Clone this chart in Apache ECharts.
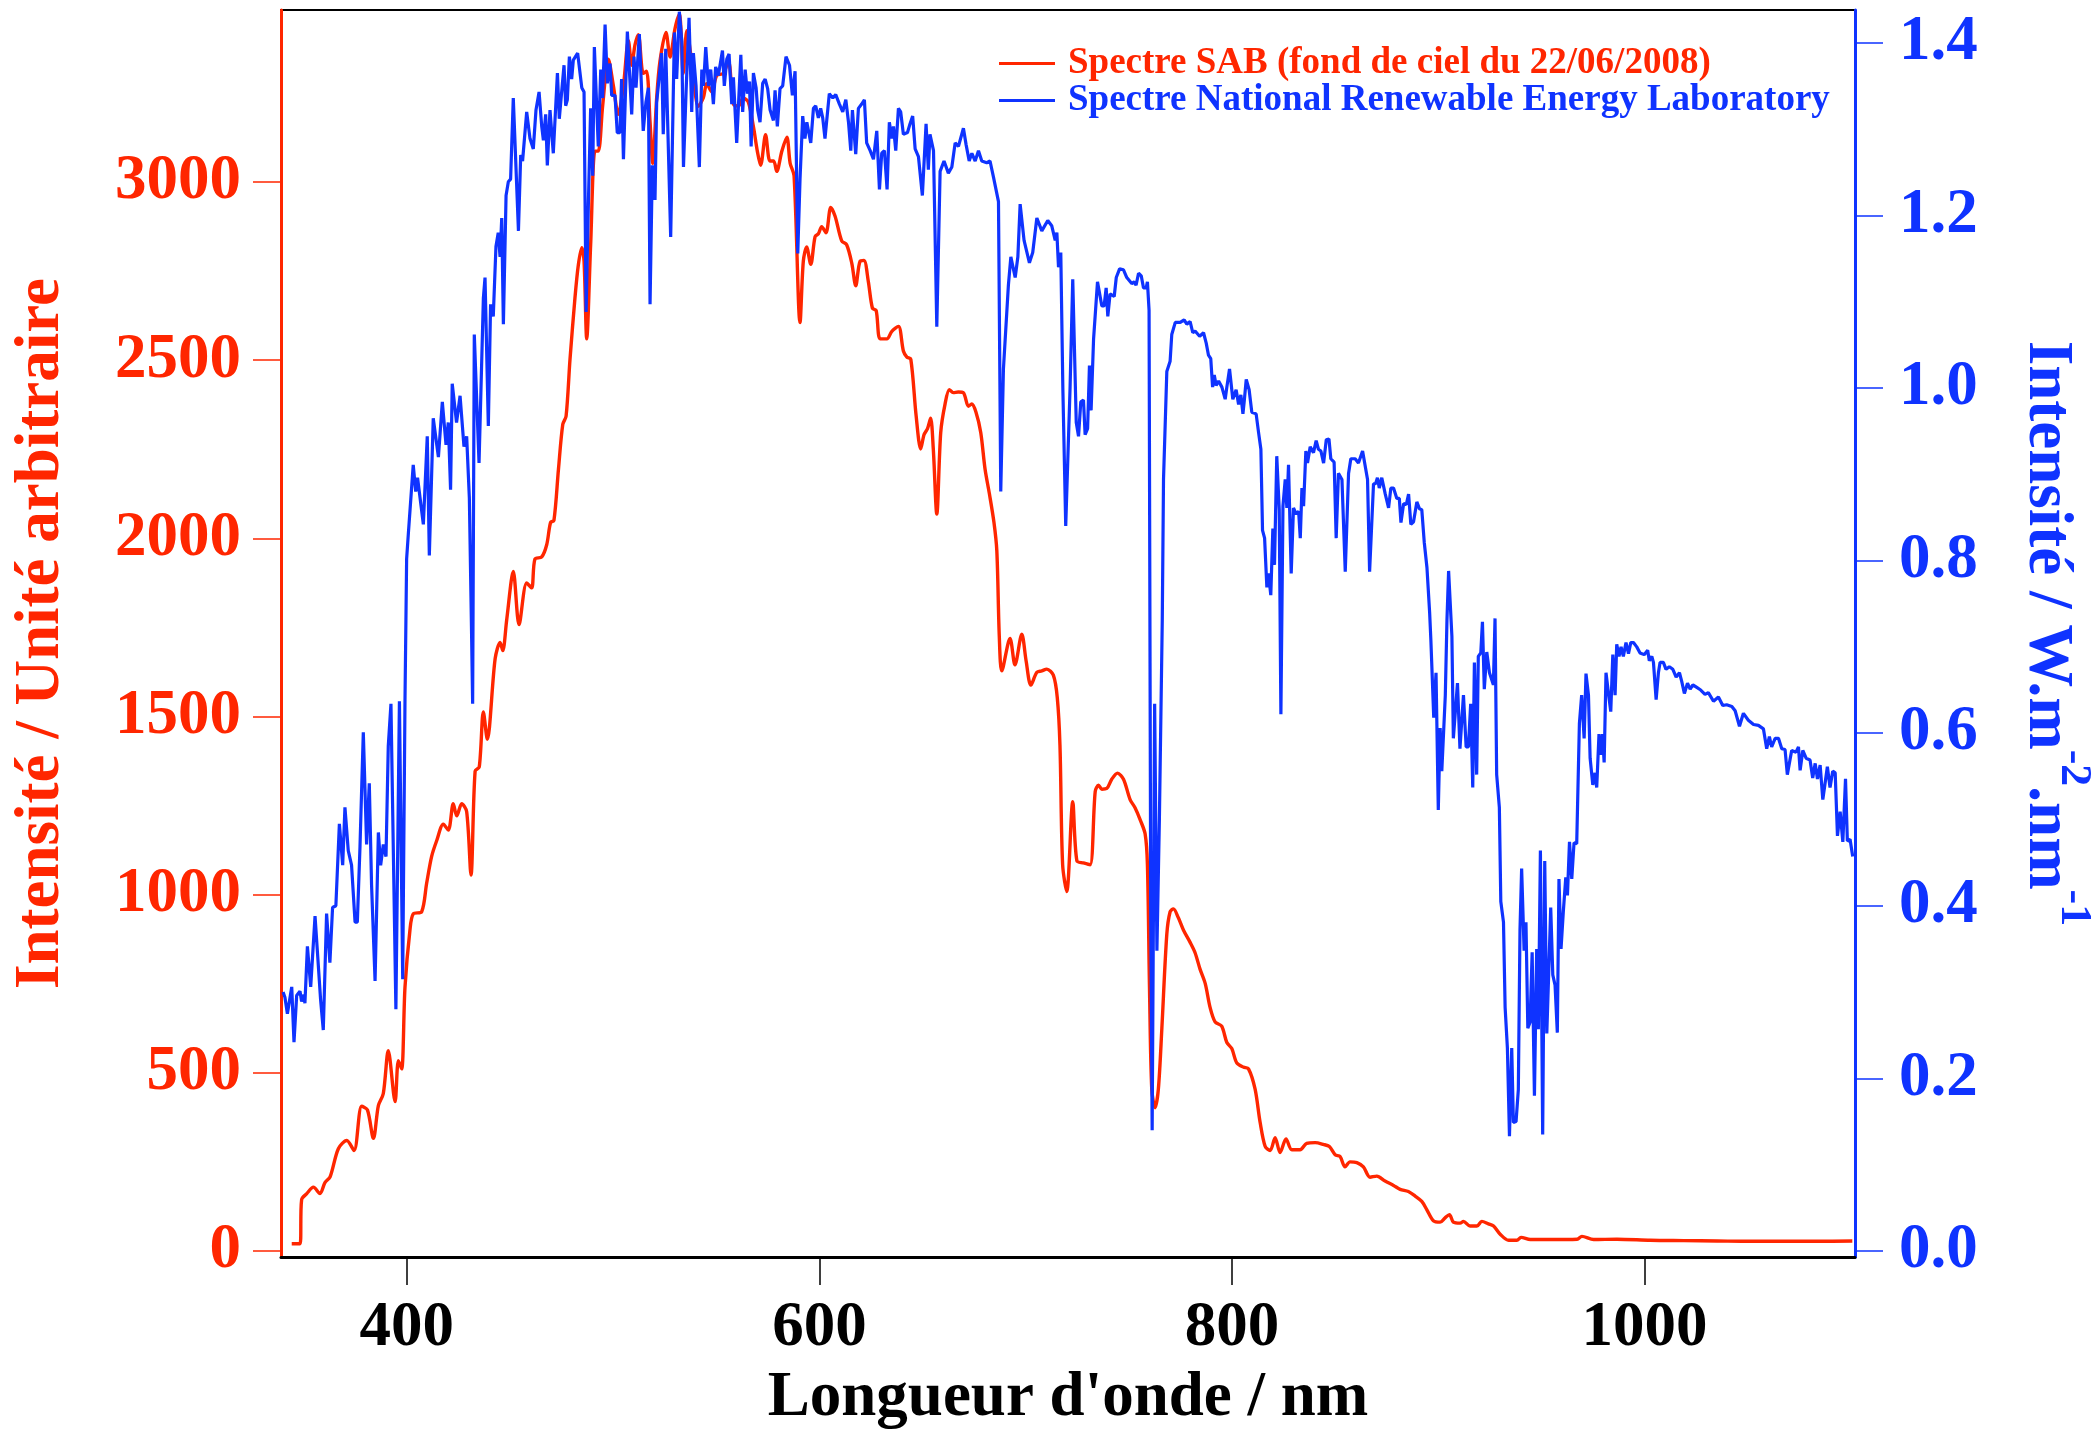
<!DOCTYPE html>
<html>
<head>
<meta charset="utf-8">
<script src="https://cdn.jsdelivr.net/npm/echarts@6/dist/echarts.min.js"></script>
<style>
  html, body { margin: 0; padding: 0; background: #fff; }
  #container { width: 2098px; height: 1433px; }
</style>
</head>
<body>
<div id="container"></div>
<script>
// spectre SAB (fond de ciel) - unité arbitraire
const sabNm = [344.2, 348.2, 349.0, 351.5, 354.7, 357.9, 360.3, 362.8, 366.8, 370.9, 374.4, 378.1, 380.9, 383.8, 386.2, 388.6, 391.0, 394.3, 395.9, 397.5, 399.1, 401.5, 403.1, 407.2, 409.6, 412.0, 414.5, 417.7, 420.1, 422.5, 424.2, 426.6, 429.0, 431.1, 433.1, 435.1, 437.1, 439.0, 442.8, 445.2, 446.5, 448.4, 451.6, 454.4, 458.1, 460.5, 462.1, 465.4, 467.8, 469.7, 471.3, 473.5, 475.6, 477.2, 479.1, 481.5, 483.1, 484.8, 485.9, 487.2, 489.1, 491.2, 492.8, 494.9, 497.7, 500.1, 502.5, 505.0, 507.4, 509.0, 510.6, 512.2, 514.6, 516.2, 517.9, 519.2, 521.1, 522.7, 525.6, 527.6, 530.0, 532.1, 534.0, 535.7, 538.1, 541.3, 543.7, 545.4, 547.8, 550.2, 553.4, 555.9, 558.3, 560.7, 563.1, 565.5, 568.0, 569.9, 571.5, 573.9, 576.0, 577.8, 579.3, 581.8, 584.2, 585.8, 587.7, 590.6, 592.2, 593.8, 595.8, 597.9, 599.5, 601.1, 603.2, 605.5, 607.6, 610.8, 613.2, 615.7, 617.6, 619.7, 621.6, 623.7, 625.7, 627.5, 629.4, 632.7, 635.1, 638.3, 640.7, 642.4, 644.3, 646.9, 649.1, 650.7, 652.4, 653.9, 655.2, 656.9, 658.8, 660.9, 663.0, 664.9, 667.3, 669.8, 672.2, 673.8, 675.9, 678.2, 680.3, 682.4, 684.6, 686.0, 687.2, 688.4, 692.4, 694.8, 698.1, 700.2, 702.5, 705.4, 707.8, 710.2, 713.4, 715.3, 716.6, 717.9, 719.9, 722.8, 724.8, 728.0, 731.2, 733.7, 735.3, 736.9, 739.3, 741.7, 744.5, 747.4, 750.6, 753.0, 755.5, 757.9, 759.0, 760.0, 761.1, 762.7, 764.3, 766.0, 768.4, 770.0, 771.6, 774.0, 776.5, 779.7, 782.1, 784.5, 787.0, 789.4, 791.8, 795.0, 797.5, 799.9, 802.3, 805.5, 808.0, 811.2, 813.6, 816.1, 818.5, 820.9, 823.3, 826.2, 829.0, 833.0, 836.2, 840.3, 844.3, 847.2, 850.0, 852.4, 854.8, 857.2, 860.5, 863.7, 866.9, 870.2, 874.2, 878.3, 881.5, 885.5, 888.8, 892.0, 894.4, 897.6, 900.9, 903.3, 905.4, 907.3, 910.6, 912.2, 915.4, 918.7, 921.1, 924.3, 926.8, 930.0, 934.1, 938.1, 940.1, 944.6, 954.3, 967.3, 969.6, 975.3, 986.6, 1002.8, 1019.0, 1035.2, 1051.4, 1067.5, 1083.7, 1100.7]
const sabVal = [20, 20, 144, 161, 179, 161, 192, 208, 287, 310, 282, 406, 396, 316, 408, 442, 562, 419, 534, 511, 740, 900, 946, 952, 1032, 1107, 1152, 1198, 1181, 1255, 1221, 1255, 1233, 1055, 1347, 1358, 1513, 1436, 1662, 1708, 1685, 1771, 1907, 1758, 1875, 1861, 1942, 1948, 1982, 2045, 2050, 2194, 2320, 2343, 2503, 2675, 2766, 2816, 2778, 2560, 2824, 3087, 3087, 3213, 3345, 3271, 3190, 3271, 3397, 3328, 3385, 3414, 3305, 3311, 3168, 3053, 3236, 3339, 3420, 3351, 3431, 3471, 3305, 3425, 3339, 3213, 3236, 3276, 3253, 3299, 3305, 3339, 3219, 3213, 3236, 3225, 3156, 3087, 3047, 3133, 3059, 3059, 3030, 3087, 3126, 3053, 3018, 2606, 2778, 2818, 2769, 2847, 2855, 2875, 2858, 2929, 2904, 2835, 2824, 2772, 2709, 2778, 2780, 2721, 2646, 2640, 2560, 2560, 2581, 2595, 2526, 2509, 2503, 2343, 2251, 2291, 2308, 2337, 2251, 2068, 2297, 2377, 2417, 2409, 2411, 2409, 2371, 2377, 2354, 2297, 2194, 2125, 2045, 1965, 1724, 1628, 1719, 1645, 1731, 1656, 1588, 1624, 1628, 1633, 1616, 1553, 1420, 1084, 1009, 1261, 1095, 1089, 1084, 1290, 1307, 1296, 1298, 1324, 1341, 1324, 1267, 1244, 1210, 1170, 1084, 740, 454, 402, 454, 625, 889, 952, 960, 935, 900, 866, 837, 791, 751, 683, 643, 631, 585, 568, 528, 516, 511, 454, 362, 293, 282, 318, 276, 314, 284, 284, 302, 304, 299, 293, 270, 265, 236, 250, 248, 236, 207, 210, 196, 184, 173, 167, 154, 139, 116, 85, 81, 93, 102, 81, 78, 83, 70, 70, 83, 76, 70, 47, 30, 30, 38, 32, 32, 33, 41, 32, 33, 30, 29, 28, 27, 27, 27, 28]

// spectre NREL - W.m-2.nm-1
const nrelNm = [340.0, 340.9, 342.1, 344.2, 345.3, 346.6, 348.2, 349.0, 350.1, 350.6, 351.8, 353.4, 355.5, 356.3, 358.2, 359.5, 361.1, 362.7, 364.0, 365.6, 367.3, 368.9, 370.0, 371.6, 373.2, 374.9, 376.0, 377.3, 378.9, 380.5, 381.8, 382.9, 384.6, 386.2, 387.3, 388.6, 389.9, 391.0, 392.3, 394.7, 396.4, 398.0, 399.1, 399.9, 400.7, 403.1, 404.3, 405.2, 408.0, 409.9, 410.9, 412.8, 415.3, 417.2, 419.0, 420.1, 421.2, 422.0, 424.1, 425.8, 427.7, 429.0, 430.3, 431.4, 431.9, 432.7, 435.0, 437.1, 437.9, 439.5, 440.6, 441.9, 443.2, 444.3, 445.2, 446.0, 446.8, 448.1, 449.2, 450.3, 451.6, 454.1, 455.2, 456.1, 458.1, 459.7, 461.3, 462.6, 464.1, 465.4, 466.2, 467.3, 468.1, 469.4, 471.0, 473.0, 473.9, 476.2, 477.0, 477.8, 478.8, 479.9, 480.7, 482.8, 484.8, 485.9, 486.9, 488.0, 489.1, 490.1, 490.9, 492.8, 494.0, 494.9, 496.1, 497.2, 498.5, 499.3, 500.9, 502.0, 503.3, 504.1, 505.0, 506.9, 509.0, 510.1, 511.1, 512.7, 514.6, 515.9, 517.1, 517.9, 519.0, 520.3, 521.1, 523.5, 524.3, 525.5, 527.9, 529.7, 530.8, 532.1, 533.3, 534.1, 535.4, 536.8, 538.1, 538.9, 540.2, 541.8, 543.0, 543.8, 544.9, 546.2, 547.3, 548.6, 549.7, 551.0, 551.8, 553.0, 553.9, 555.1, 556.2, 557.5, 558.3, 559.9, 561.9, 562.8, 564.0, 565.1, 566.1, 566.9, 568.0, 569.3, 570.1, 571.2, 572.5, 573.7, 574.9, 576.1, 577.7, 578.5, 579.6, 580.9, 582.2, 583.8, 585.5, 586.9, 588.2, 589.5, 590.6, 591.9, 593.0, 593.9, 594.7, 595.8, 597.1, 598.2, 599.5, 600.6, 601.6, 602.7, 604.8, 606.5, 607.9, 609.7, 611.3, 612.8, 614.1, 615.2, 616.0, 617.6, 618.9, 620.5, 621.8, 622.9, 624.6, 626.2, 627.8, 629.1, 630.2, 631.5, 632.8, 633.9, 635.1, 635.9, 637.0, 638.3, 639.4, 640.7, 642.7, 643.9, 645.2, 646.4, 648.0, 649.9, 650.7, 651.7, 652.8, 653.6, 655.3, 656.9, 658.5, 660.4, 662.5, 664.2, 665.8, 667.4, 669.8, 671.1, 672.6, 673.9, 675.5, 677.1, 678.7, 681.1, 682.7, 684.4, 686.8, 687.9, 689.2, 690.0, 691.6, 692.8, 694.9, 696.2, 697.3, 699.2, 701.8, 703.4, 705.4, 707.8, 710.7, 712.6, 714.3, 715.1, 715.9, 717.0, 718.0, 719.4, 721.5, 722.8, 724.5, 725.6, 726.7, 728.0, 728.8, 730.0, 730.9, 731.7, 732.9, 734.8, 736.9, 738.0, 739.0, 739.8, 740.9, 742.9, 743.9, 745.5, 747.4, 749.0, 751.4, 752.6, 753.5, 754.7, 756.0, 757.1, 758.4, 759.0, 759.8, 760.6, 761.3, 762.5, 763.6, 764.8, 766.2, 766.8, 768.4, 770.0, 770.8, 772.5, 774.9, 776.8, 778.1, 779.7, 781.0, 782.1, 783.0, 784.3, 786.2, 787.5, 788.6, 789.7, 790.6, 791.4, 792.3, 793.5, 795.1, 796.7, 797.5, 798.8, 800.4, 802.0, 803.2, 804.3, 805.3, 805.9, 806.9, 808.3, 809.6, 811.7, 812.9, 814.0, 814.8, 815.8, 816.9, 817.7, 818.8, 819.8, 820.6, 821.7, 822.9, 823.7, 824.7, 825.8, 826.6, 827.4, 828.7, 829.8, 831.1, 832.3, 833.1, 833.9, 834.7, 835.8, 836.6, 837.9, 839.5, 840.8, 841.9, 843.1, 844.4, 845.7, 847.0, 847.9, 849.5, 850.5, 851.6, 853.3, 854.9, 856.5, 857.6, 859.7, 861.3, 863.3, 865.7, 866.7, 868.6, 869.6, 870.5, 871.4, 872.6, 874.3, 875.9, 877.0, 878.3, 879.9, 881.1, 881.9, 883.2, 884.5, 885.6, 886.7, 888.0, 889.6, 890.9, 892.0, 893.2, 894.5, 895.8, 896.4, 897.8, 898.9, 900.0, 900.9, 901.7, 903.4, 904.2, 905.0, 906.6, 907.3, 909.3, 910.5, 912.2, 913.5, 914.6, 915.7, 916.7, 917.5, 918.6, 919.4, 920.6, 921.4, 922.3, 923.5, 924.8, 926.7, 927.5, 928.3, 929.6, 930.3, 931.6, 932.4, 933.5, 934.5, 935.6, 936.4, 937.7, 938.8, 939.6, 940.4, 941.6, 942.5, 943.4, 944.5, 945.5, 946.6, 947.7, 948.5, 949.5, 950.6, 951.6, 952.6, 953.5, 954.5, 955.5, 956.6, 957.7, 958.5, 959.5, 960.6, 961.8, 962.6, 963.6, 964.7, 965.8, 967.1, 968.4, 969.5, 970.7, 971.6, 972.8, 973.6, 974.9, 976.0, 976.8, 977.9, 978.7, 979.6, 980.4, 981.3, 982.5, 983.6, 984.6, 985.7, 986.5, 987.6, 988.6, 989.7, 991.0, 992.2, 993.3, 994.6, 996.2, 997.8, 999.8, 1001.5, 1002.3, 1003.5, 1004.3, 1005.6, 1006.7, 1007.5, 1009.1, 1010.4, 1012.0, 1013.7, 1015.3, 1016.9, 1018.0, 1019.3, 1020.8, 1022.1, 1023.4, 1025.3, 1027.2, 1029.3, 1030.9, 1033.4, 1035.8, 1037.9, 1039.8, 1042.3, 1043.9, 1046.0, 1047.9, 1050.3, 1052.8, 1055.2, 1057.6, 1059.2, 1060.5, 1061.6, 1063.3, 1064.9, 1066.5, 1068.1, 1069.2, 1071.3, 1073.4, 1074.6, 1075.4, 1076.7, 1078.3, 1080.2, 1081.5, 1082.7, 1083.8, 1085.1, 1086.4, 1087.5, 1088.6, 1089.9, 1091.2, 1092.4, 1093.5, 1094.8, 1096.1, 1097.4, 1098.3, 1099.6, 1100.9]
const nrelVal = [0.300, 0.294, 0.275, 0.306, 0.242, 0.296, 0.301, 0.289, 0.297, 0.287, 0.353, 0.306, 0.388, 0.388, 0.291, 0.256, 0.391, 0.334, 0.398, 0.400, 0.495, 0.447, 0.514, 0.464, 0.447, 0.381, 0.381, 0.469, 0.601, 0.471, 0.542, 0.424, 0.313, 0.485, 0.447, 0.471, 0.457, 0.585, 0.634, 0.280, 0.637, 0.315, 0.637, 0.802, 0.830, 0.911, 0.880, 0.896, 0.842, 0.944, 0.806, 0.965, 0.920, 0.984, 0.934, 0.960, 0.882, 1.005, 0.960, 0.991, 0.932, 0.944, 0.873, 0.712, 0.634, 1.062, 0.913, 1.104, 1.128, 0.956, 1.097, 1.083, 1.164, 1.180, 1.152, 1.197, 1.074, 1.223, 1.239, 1.242, 1.336, 1.182, 1.270, 1.263, 1.320, 1.289, 1.277, 1.322, 1.343, 1.303, 1.287, 1.317, 1.258, 1.322, 1.272, 1.365, 1.312, 1.374, 1.327, 1.334, 1.384, 1.358, 1.380, 1.388, 1.348, 1.343, 1.088, 1.213, 1.324, 1.246, 1.395, 1.280, 1.369, 1.336, 1.421, 1.353, 1.376, 1.339, 1.339, 1.296, 1.296, 1.358, 1.265, 1.413, 1.317, 1.384, 1.348, 1.410, 1.298, 1.331, 1.348, 1.097, 1.258, 1.218, 1.331, 1.388, 1.294, 1.393, 1.175, 1.412, 1.358, 1.436, 1.402, 1.256, 1.346, 1.429, 1.320, 1.388, 1.350, 1.256, 1.369, 1.350, 1.395, 1.350, 1.369, 1.329, 1.372, 1.362, 1.362, 1.391, 1.350, 1.381, 1.387, 1.329, 1.360, 1.284, 1.386, 1.320, 1.369, 1.341, 1.355, 1.280, 1.365, 1.348, 1.322, 1.308, 1.353, 1.358, 1.347, 1.322, 1.310, 1.345, 1.303, 1.347, 1.350, 1.384, 1.374, 1.339, 1.367, 1.156, 1.242, 1.315, 1.289, 1.308, 1.298, 1.284, 1.324, 1.327, 1.313, 1.324, 1.313, 1.289, 1.341, 1.336, 1.340, 1.329, 1.320, 1.334, 1.308, 1.275, 1.322, 1.271, 1.324, 1.329, 1.334, 1.284, 1.275, 1.265, 1.298, 1.230, 1.272, 1.275, 1.230, 1.308, 1.289, 1.303, 1.275, 1.324, 1.320, 1.294, 1.296, 1.306, 1.315, 1.277, 1.268, 1.223, 1.223, 1.306, 1.253, 1.294, 1.275, 1.071, 1.251, 1.263, 1.249, 1.256, 1.284, 1.280, 1.301, 1.282, 1.263, 1.272, 1.263, 1.275, 1.263, 1.261, 1.263, 1.244, 1.216, 0.880, 1.022, 1.024, 1.119, 1.152, 1.128, 1.152, 1.213, 1.171, 1.145, 1.157, 1.197, 1.182, 1.194, 1.188, 1.171, 1.180, 1.140, 1.157, 1.000, 0.840, 1.000, 1.126, 0.960, 0.944, 0.984, 0.986, 0.946, 0.953, 1.026, 0.974, 1.057, 1.123, 1.095, 1.095, 1.116, 1.083, 1.109, 1.106, 1.128, 1.138, 1.137, 1.128, 1.121, 1.123, 1.119, 1.133, 1.130, 1.116, 1.116, 1.123, 1.090, 0.400, 0.140, 0.634, 0.348, 0.500, 0.731, 0.894, 1.019, 1.031, 1.062, 1.076, 1.076, 1.079, 1.074, 1.077, 1.064, 1.066, 1.068, 1.060, 1.064, 1.052, 1.038, 1.034, 1.001, 1.015, 1.003, 1.008, 1.001, 0.987, 1.001, 1.022, 0.987, 0.998, 0.981, 0.992, 0.970, 0.984, 1.010, 0.998, 0.972, 0.970, 0.948, 0.929, 0.835, 0.826, 0.769, 0.785, 0.760, 0.837, 0.795, 0.921, 0.859, 0.622, 0.863, 0.894, 0.861, 0.911, 0.785, 0.861, 0.854, 0.857, 0.826, 0.884, 0.863, 0.927, 0.913, 0.932, 0.925, 0.939, 0.929, 0.927, 0.913, 0.940, 0.941, 0.918, 0.914, 0.826, 0.901, 0.894, 0.787, 0.901, 0.918, 0.918, 0.913, 0.927, 0.894, 0.787, 0.889, 0.889, 0.896, 0.884, 0.896, 0.877, 0.861, 0.884, 0.884, 0.872, 0.872, 0.844, 0.866, 0.865, 0.877, 0.842, 0.845, 0.868, 0.860, 0.859, 0.821, 0.792, 0.740, 0.708, 0.618, 0.670, 0.511, 0.606, 0.556, 0.644, 0.731, 0.788, 0.712, 0.594, 0.658, 0.582, 0.644, 0.584, 0.584, 0.634, 0.537, 0.682, 0.552, 0.689, 0.693, 0.729, 0.651, 0.694, 0.670, 0.656, 0.733, 0.552, 0.514, 0.405, 0.381, 0.282, 0.235, 0.133, 0.235, 0.149, 0.150, 0.187, 0.372, 0.443, 0.348, 0.381, 0.258, 0.265, 0.346, 0.180, 0.350, 0.257, 0.464, 0.135, 0.452, 0.252, 0.320, 0.398, 0.320, 0.308, 0.253, 0.431, 0.350, 0.393, 0.433, 0.412, 0.474, 0.431, 0.473, 0.472, 0.611, 0.644, 0.594, 0.669, 0.644, 0.571, 0.540, 0.554, 0.537, 0.599, 0.575, 0.599, 0.566, 0.670, 0.646, 0.625, 0.691, 0.644, 0.703, 0.689, 0.700, 0.689, 0.705, 0.692, 0.705, 0.705, 0.700, 0.693, 0.691, 0.696, 0.684, 0.689, 0.682, 0.639, 0.670, 0.682, 0.682, 0.674, 0.677, 0.674, 0.665, 0.670, 0.660, 0.646, 0.658, 0.651, 0.656, 0.653, 0.650, 0.645, 0.647, 0.637, 0.642, 0.632, 0.633, 0.631, 0.626, 0.608, 0.623, 0.615, 0.610, 0.609, 0.605, 0.582, 0.596, 0.584, 0.594, 0.594, 0.582, 0.581, 0.552, 0.580, 0.578, 0.584, 0.557, 0.580, 0.571, 0.569, 0.548, 0.565, 0.547, 0.563, 0.523, 0.542, 0.561, 0.537, 0.556, 0.554, 0.481, 0.509, 0.474, 0.547, 0.475, 0.477, 0.457]

// graduations
const xTicks = [400, 600, 800, 1000]
const leftTicks = [0, 500, 1000, 1500, 2000, 2500, 3000]
const rightTicks = [0, 0.2, 0.4, 0.6, 0.8, 1.0, 1.2, 1.4]

const red = '#ff2600'
const blue = '#0f33ff'
const font = '"Liberation Serif", "Times New Roman", serif'

function zip(xs, ys) {
  return xs.map((x, i) => [x, ys[i]])
}

let chartDom = document.getElementById('container')
let myChart = echarts.init(chartDom, null, { renderer: 'canvas' })

let option = {
  animation: false,
  backgroundColor: '#fff',
  grid: {
    left: 281,
    right: 243,
    top: 10,
    bottom: 176,
    containLabel: false,
    outerBoundsMode: 'none',
    show: true,
    borderColor: '#000',
    borderWidth: 2
  },
  legend: {
    left: 994,
    top: 40,
    orient: 'vertical',
    icon: 'rect',
    itemWidth: 56,
    itemHeight: 3,
    itemGap: 0,
    textStyle: {
      fontFamily: font,
      fontWeight: 'bold',
      fontSize: 37,
      lineHeight: 36,
      padding: [0, 0, 0, 8]
    },
    data: [
      { name: 'Spectre SAB (fond de ciel du 22/06/2008)', textStyle: { color: red } },
      { name: 'Spectre National Renewable Energy Laboratory', textStyle: { color: blue } }
    ]
  },
  xAxis: {
    type: 'value',
    min: 339,
    max: 1102,
    axisLine: { onZero: false, lineStyle: { color: '#000', width: 3 } },
    axisTick: { length: 28, customValues: xTicks, lineStyle: { color: '#000', width: 1.5 } },
    axisLabel: {
      customValues: xTicks,
      margin: 40,
      color: '#000',
      fontFamily: font,
      fontWeight: 'bold',
      fontSize: 63,
      formatter: function(v) {
        return String(v)
      }
    },
    splitLine: { show: false },
    name: "Longueur d'onde / nm",
    nameLocation: 'middle',
    nameGap: 110,
    nameTextStyle: { color: '#000', fontFamily: font, fontWeight: 'bold', fontSize: 63 }
  },
  yAxis: [
    {
      type: 'value',
      position: 'left',
      min: -17,
      max: 3483,
      axisLine: { show: true, onZero: false, lineStyle: { color: red, width: 3 } },
      axisTick: { show: true, length: 28, customValues: leftTicks, lineStyle: { color: red, width: 1.5 } },
      axisLabel: {
        customValues: leftTicks,
        margin: 40,
        color: red,
        fontFamily: font,
        fontWeight: 'bold',
        fontSize: 63,
        formatter: function(v) {
          return String(v)
        }
      },
      splitLine: { show: false },
      name: 'Intensité / Unité arbitraire',
      nameLocation: 'middle',
      nameRotate: 90,
      nameGap: 208,
      nameTextStyle: { color: red, fontFamily: font, fontWeight: 'bold', fontSize: 63 }
    },
    {
      type: 'value',
      position: 'right',
      min: -0.007,
      max: 1.438,
      axisLine: { show: true, onZero: false, lineStyle: { color: blue, width: 3 } },
      axisTick: { show: true, length: 28, customValues: rightTicks, lineStyle: { color: blue, width: 1.5 } },
      axisLabel: {
        customValues: rightTicks,
        margin: 44,
        color: blue,
        fontFamily: font,
        fontWeight: 'bold',
        fontSize: 63,
        formatter: function(v) {
          return v.toFixed(1)
        }
      },
      splitLine: { show: false },
      name: '{n|Intensité / W.m}{s|-2}{n|.nm}{s|-1}',
      nameLocation: 'middle',
      nameRotate: -90,
      nameGap: 160,
      nameTextStyle: {
        rich: {
          n: { color: blue, fontFamily: font, fontWeight: 'bold', fontSize: 63, lineHeight: 80, verticalAlign: 'bottom' },
          s: { color: blue, fontFamily: font, fontWeight: 'bold', fontSize: 44, lineHeight: 44, verticalAlign: 'top' }
        }
      }
    }
  ],
  series: [
    {
      name: 'Spectre SAB (fond de ciel du 22/06/2008)',
      type: 'line',
      yAxisIndex: 0,
      data: zip(sabNm, sabVal),
      symbol: 'none',
      smooth: 0.3,
      lineStyle: { color: red, width: 3.4 },
      itemStyle: { color: red }
    },
    {
      name: 'Spectre National Renewable Energy Laboratory',
      type: 'line',
      yAxisIndex: 1,
      data: zip(nrelNm, nrelVal),
      symbol: 'none',
      lineStyle: { color: blue, width: 3.2 },
      itemStyle: { color: blue }
    }
  ]
}

option && myChart.setOption(option)

window.addEventListener('resize', function() {
  myChart.resize()
})
</script>
</body>
</html>
